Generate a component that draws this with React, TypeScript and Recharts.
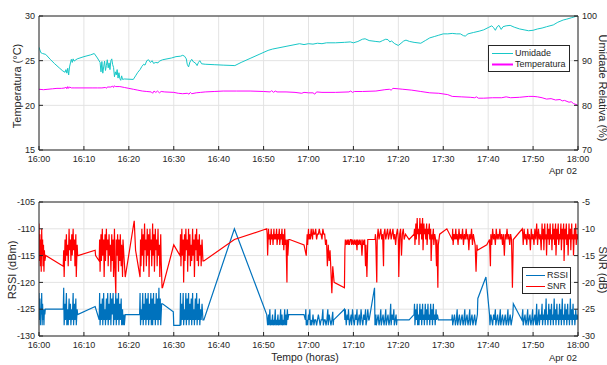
import { LineChart, Line, XAxis, YAxis, CartesianGrid } from 'recharts';

// minutes after 16:00
const timeTicks = [0, 10, 20, 30, 40, 50, 60, 70, 80, 90, 100, 110, 120];
const timeLabels = ['16:00', '16:10', '16:20', '16:30', '16:40', '16:50', '17:00', '17:10', '17:20', '17:30', '17:40', '17:50', '18:00'];

const tempTicks = [15, 20, 25, 30];
const humTicks = [70, 80, 90, 100];
const rssiTicks = [-130, -125, -120, -115, -110, -105];
const snrTicks = [-30, -25, -20, -15, -10, -5];

// relative humidity (%) [minute, value]
const umidade: [number, number][] = [
  [0, 93.0], [0.4, 91.8], [0.8, 91.6], [1.5, 91.4], [2.5, 90.3], [3.5, 89.3], [4.5, 88.4], [5.3, 87.7], [5.8, 87.4],
  [6.0, 88.0], [6.2, 87.2], [6.4, 88.3], [6.6, 86.8], [6.8, 88.6], [7.0, 89.5], [7.2, 90.3], [7.4, 89.6], [7.6, 90.4],
  [7.8, 89.9], [8.5, 90.4], [10, 90.9], [11.5, 91.3], [12.3, 91.6], [13.0, 90.6], [13.6, 89.6], [13.8, 87.5], [14.0, 89.8],
  [14.2, 87.2], [14.4, 88.6], [14.6, 89.9], [14.8, 87.8], [15.0, 88.9], [15.2, 90.2], [15.4, 88.4], [15.6, 89.5], [15.8, 88.0],
  [16.0, 90.0], [16.2, 90.4], [16.4, 89.1], [16.6, 88.5], [16.8, 86.4], [17.0, 87.5], [17.2, 86.8], [17.4, 88.0], [17.6, 86.1],
  [17.8, 87.3], [18.0, 86.0], [18.2, 85.6], [18.4, 86.6], [18.6, 85.8], [19, 85.9], [21, 85.8], [21.5, 86.6], [22, 87.4],
  [22.5, 88.0], [22.9, 88.7], [23.3, 89.2], [23.6, 89.0], [24, 90.0], [24.4, 90.2], [24.8, 89.6], [25.2, 90.0], [25.5, 89.4],
  [26, 89.6], [26.5, 89.5], [26.8, 89.9], [27.5, 90.2], [28.5, 90.4], [29.5, 90.6], [30.5, 90.9], [31.5, 91.0], [32, 91.2],
  [32.4, 91.0], [32.8, 90.4], [33.0, 89.2], [33.3, 88.6], [33.6, 89.7], [34, 90.3], [34.4, 89.7], [34.8, 89.5], [35.2, 88.9],
  [35.5, 89.6], [35.8, 90.0], [36.2, 89.3], [37, 89.2], [39, 89.1], [41, 89.0], [43.6, 88.9], [45, 89.6], [47, 90.5],
  [49, 91.4], [51, 92.3], [52, 92.6], [53, 92.8], [55, 93.2], [57, 93.6], [58, 93.8], [59, 93.6], [60, 93.8], [61, 93.7],
  [62, 93.9], [63, 93.8], [64, 94.0], [66, 94.0], [68, 94.1], [69.3, 94.2], [70, 94.0], [71, 94.3], [72, 94.8], [72.6, 94.9],
  [73.5, 94.5], [75, 94.3], [75.9, 94.2], [76.5, 94.5], [77.2, 94.8], [77.7, 94.7], [78.1, 94.2], [78.5, 94.4], [79.2, 93.8],
  [80, 93.4], [80.6, 93.9], [81.2, 94.4], [81.7, 94.6], [82.5, 94.3], [83.5, 94.1], [85, 93.9], [86, 94.5], [87, 95.1],
  [88, 95.4], [89, 95.7], [90, 96.0], [91, 96.0], [92, 96.1], [93, 96.0], [93.8, 96.0], [94.5, 95.6], [94.9, 95.5],
  [95.5, 96.0], [96.7, 96.3], [98, 96.6], [99, 96.9], [100, 97.4], [100.8, 97.8], [101.2, 97.4], [101.6, 96.8], [102.0, 97.6],
  [102.4, 97.9], [102.9, 97.0], [103.3, 97.6], [104, 97.8], [104.9, 97.9], [105.8, 97.5], [107, 97.1], [108, 96.9],
  [109, 96.7], [110, 96.8], [111, 97.1], [112, 97.3], [113, 97.6], [114.5, 98.0], [115.5, 98.6], [116.7, 99.1],
  [117.5, 99.3], [118.5, 99.6], [119.8, 100],
];

// temperature (°C) [minute, value]
const temperatura: [number, number][] = [
  [0, 21.8], [1, 21.75], [2, 21.8], [3, 21.85], [4, 21.9], [5, 21.9], [5.8, 21.95], [6.0, 22.05], [6.2, 21.85], [6.4, 22.1],
  [6.6, 21.9], [6.8, 22.05], [7.2, 21.95], [8, 21.95], [10, 21.95], [12, 21.95], [13, 21.95], [14, 21.95], [14.8, 22.0],
  [15, 21.9], [15.2, 22.05], [16, 22.05], [16.4, 22.15], [16.6, 22.0], [16.8, 22.2], [17, 22.1], [18, 22.1], [19, 22.0],
  [20, 21.9], [21, 21.8], [22, 21.7], [23, 21.6], [24, 21.55], [25, 21.5], [25.3, 21.35], [25.6, 21.6], [26, 21.45],
  [26.4, 21.6], [26.8, 21.4], [27.2, 21.55], [28, 21.5], [30, 21.45], [31, 21.35], [32, 21.3], [33, 21.35], [33.4, 21.25],
  [33.7, 21.45], [34, 21.3], [35, 21.4], [36, 21.45], [37, 21.5], [39, 21.55], [41, 21.6], [44, 21.6], [47, 21.6],
  [50, 21.55], [51.5, 21.5], [51.8, 21.65], [52.2, 21.45], [52.6, 21.6], [53, 21.5], [55, 21.5], [57, 21.45], [58.5, 21.35],
  [59, 21.45], [60, 21.4], [61, 21.4], [61.4, 21.25], [61.8, 21.5], [63, 21.45], [66, 21.45], [69, 21.5], [69.4, 21.6],
  [69.8, 21.45], [70.2, 21.55], [72, 21.55], [75, 21.6], [77, 21.75], [78, 21.8], [78.4, 21.7], [78.8, 21.9], [80, 21.85],
  [81, 21.8], [83, 21.7], [85, 21.55], [87, 21.4], [89, 21.35], [91, 21.2], [92, 21.0], [94, 20.95], [96, 20.9], [97, 20.85],
  [97.4, 20.95], [97.8, 20.8], [99, 20.8], [101, 20.85], [103, 20.85], [104, 20.95], [105, 20.85], [107, 20.9], [109, 21.0],
  [110, 21.0], [111, 20.95], [112, 20.85], [113, 20.7], [114, 20.75], [115, 20.6], [116, 20.65], [116.5, 20.5], [117, 20.55],
  [118, 20.35], [118.5, 20.4], [119, 20.2], [119.8, 20.05],
];

// RSSI (dBm) [minute, value]
const rssi: [number, number][] = [
  [0.0, -122], [0.1, -127], [0.2, -123], [0.3, -128], [0.4, -125], [0.5, -126], [0.6, -122], [0.7, -128], [0.8, -124],
  [0.9, -127], [1.0, -125], [1.1, -128], [1.2, -125], [1.3, -126], [1.4, -125], [5.4, -125],
  [5.5, -121], [5.6, -128], [5.8, -124], [5.9, -127], [6.1, -122], [6.2, -128], [6.4, -125], [6.5, -128], [6.7, -123],
  [6.8, -127], [7.0, -124], [7.1, -128], [7.3, -125], [7.4, -127], [7.6, -122], [7.7, -128], [7.9, -124], [8.0, -127],
  [8.2, -123], [8.3, -128], [8.5, -125], [8.6, -126], [12.5, -124.5], [13.4, -127],
  [13.5, -122], [13.6, -128], [13.8, -124], [13.9, -127], [14.1, -123], [14.2, -128], [14.4, -122], [14.5, -127],
  [14.7, -125], [14.8, -128], [15.0, -123], [15.1, -127], [15.3, -122], [15.4, -128], [15.6, -124], [15.7, -127],
  [15.9, -122], [16.0, -128], [16.2, -123], [16.3, -126], [16.5, -122], [16.6, -128], [16.8, -124], [16.9, -127],
  [17.1, -122], [17.2, -128], [17.4, -123], [17.5, -127], [17.7, -122], [17.8, -128], [18.0, -124], [18.1, -127],
  [18.3, -123], [18.4, -128], [18.6, -125], [18.7, -128], [18.9, -126], [19.0, -128], [19.2, -126], [22.4, -126],
  [22.5, -122], [22.6, -128], [22.8, -125], [22.9, -127], [23.1, -122], [23.2, -128], [23.4, -124], [23.5, -127],
  [23.7, -122], [23.8, -128], [24.0, -123], [24.1, -127], [24.3, -122], [24.4, -128], [24.6, -124], [24.7, -127],
  [24.9, -122], [25.0, -128], [25.2, -123], [25.3, -128], [25.5, -122], [25.6, -127], [25.8, -124], [25.9, -128],
  [26.1, -122], [26.2, -127], [26.4, -123], [26.5, -128], [26.7, -121], [26.8, -127], [27.0, -123], [27.1, -128],
  [27.3, -124], [27.5, -124], [29.9, -125.5], [30.0, -128], [31.4, -128],
  [31.5, -122], [31.6, -128], [31.8, -124], [31.9, -127], [32.1, -122], [32.2, -128], [32.4, -125], [32.5, -127],
  [32.7, -122], [32.8, -128], [33.0, -123], [33.1, -127], [33.3, -122], [33.4, -128], [33.6, -124], [33.7, -127],
  [33.9, -123], [34.0, -128], [34.2, -122], [34.3, -127], [34.5, -125], [34.6, -128], [34.8, -123], [34.9, -127],
  [35.1, -122], [35.2, -128], [35.4, -124], [35.5, -127], [35.7, -123], [35.8, -128], [36.0, -125], [36.1, -127],
  [36.3, -124], [36.5, -127], [36.7, -127], [43.5, -110], [50.7, -126],
  [50.8, -127], [50.9, -128], [51.1, -126], [51.2, -128], [51.4, -125], [51.5, -128], [51.7, -127], [51.8, -128],
  [52.0, -126], [52.1, -128], [52.3, -127], [52.4, -128], [52.6, -125], [52.7, -128], [52.9, -127], [53.0, -128],
  [53.2, -126], [53.3, -128], [53.5, -127], [53.6, -128], [53.8, -125], [53.9, -128], [54.1, -126], [54.2, -128],
  [54.4, -127], [54.5, -128], [54.7, -125], [54.8, -128], [55.0, -126], [55.1, -128], [55.3, -125], [55.4, -127],
  [55.6, -126], [55.8, -126], [59.0, -126], [59.3, -127],
  [59.4, -125], [59.5, -128], [59.7, -127], [59.8, -128], [60.0, -126], [60.1, -127], [60.3, -125], [60.4, -128],
  [60.6, -127], [60.7, -128], [60.9, -127], [61.0, -126], [61.2, -128], [61.4, -127], [61.6, -127], [61.8, -128],
  [62.0, -127], [62.2, -126], [62.4, -127], [62.6, -128], [62.8, -127], [63.0, -127], [63.2, -125], [63.3, -128],
  [63.5, -127], [63.7, -127], [63.9, -128], [64.1, -127], [64.3, -125], [64.4, -128], [64.6, -126], [64.8, -127],
  [65.0, -128], [65.2, -127], [65.4, -125.5], [65.5, -128], [65.6, -127], [68.0, -125],
  [68.1, -127], [68.2, -125], [68.4, -128], [68.6, -126], [68.8, -127], [68.9, -125], [69.1, -128], [69.3, -127],
  [69.5, -126], [69.6, -128], [69.8, -125], [70.0, -127], [70.2, -128], [70.4, -126], [70.6, -127], [70.8, -125],
  [70.9, -128], [71.1, -127], [71.3, -126], [71.5, -128], [71.7, -125], [71.9, -127], [72.1, -128], [72.3, -126],
  [72.5, -127], [72.7, -125], [72.8, -128], [73.0, -127], [73.2, -125], [73.4, -127], [73.5, -127], [74.7, -121], [74.8, -128],
  [75.0, -126], [75.1, -128], [75.3, -127], [75.5, -126], [75.7, -128], [75.9, -127], [76.1, -125], [76.2, -128],
  [76.4, -127], [76.6, -126], [76.8, -128], [77.0, -127], [77.2, -125], [77.3, -128], [77.5, -127], [77.7, -126],
  [77.9, -128], [78.1, -127], [78.3, -124], [78.4, -128], [78.6, -126], [78.8, -127], [79.0, -125], [79.1, -128],
  [79.3, -127], [79.5, -126], [79.6, -128], [79.7, -127], [82.4, -127], [83.5, -126],
  [83.6, -124], [83.7, -128], [83.9, -125], [84.0, -127], [84.2, -124], [84.3, -128], [84.5, -126], [84.6, -128],
  [84.8, -124], [84.9, -127], [85.1, -125], [85.2, -128], [85.4, -124], [85.5, -127], [85.7, -126], [85.8, -128],
  [86.0, -124], [86.1, -127], [86.3, -125], [86.4, -128], [86.6, -124], [86.7, -127], [86.9, -126], [87.0, -128],
  [87.2, -124], [87.3, -127], [87.5, -125], [87.6, -128], [87.8, -124], [87.9, -127], [88.1, -126], [88.2, -128],
  [88.4, -125], [88.5, -127], [88.7, -126], [88.9, -127], [89.0, -127], [91.9, -127],
  [92.0, -126], [92.1, -128], [92.3, -127], [92.5, -126], [92.7, -128], [92.9, -127], [93.1, -125], [93.2, -128],
  [93.4, -127], [93.6, -126], [93.8, -128], [94.0, -127], [94.2, -126], [94.4, -128], [94.6, -127], [94.8, -125],
  [94.9, -128], [95.1, -127], [95.3, -126], [95.5, -128], [95.7, -127], [95.9, -125], [96.0, -128], [96.2, -127],
  [96.4, -126], [96.6, -128], [96.8, -127], [97.0, -126], [97.2, -128], [97.4, -127], [97.6, -126],
  [97.7, -123], [99.5, -119], [100.3, -126],
  [100.4, -128], [100.6, -126], [100.8, -127], [101.0, -128], [101.2, -126], [101.4, -127], [101.6, -125], [101.7, -128],
  [101.9, -127], [102.1, -126], [102.3, -128], [102.5, -127], [102.7, -125], [102.8, -128], [103.0, -127], [103.2, -126],
  [103.4, -128], [103.6, -127], [103.8, -126], [104.0, -128], [104.2, -127], [104.4, -125], [104.5, -128], [104.7, -127],
  [104.9, -126], [105.1, -128], [105.3, -127], [105.5, -126], [105.6, -124], [107.5, -127],
  [107.7, -125], [107.8, -128], [108.0, -127], [108.2, -126], [108.4, -128], [108.6, -127], [108.8, -125], [108.9, -128],
  [109.1, -127], [109.3, -126], [109.5, -128], [109.7, -127], [109.9, -125], [110.0, -128], [110.2, -127], [110.4, -126],
  [110.6, -128], [110.8, -124], [110.9, -128], [111.1, -127], [111.3, -125], [111.4, -128], [111.6, -126], [111.8, -127],
  [112.0, -124], [112.1, -128], [112.3, -126], [112.4, -127], [112.6, -125], [112.7, -128], [112.9, -123], [113.0, -127],
  [113.2, -126], [113.3, -128], [113.5, -124], [113.6, -127], [113.8, -125], [113.9, -128], [114.1, -124], [114.2, -127],
  [114.4, -126], [114.5, -128], [114.7, -123], [114.8, -127], [115.0, -125], [115.1, -128], [115.3, -124], [115.4, -127],
  [115.6, -126], [115.7, -128], [115.9, -124], [116.0, -127], [116.2, -125], [116.3, -128], [116.5, -123], [116.6, -127],
  [116.8, -126], [116.9, -128], [117.1, -124], [117.2, -127], [117.4, -125], [117.5, -128], [117.7, -124], [117.8, -127],
  [118.0, -126], [118.1, -128], [118.3, -123], [118.4, -127], [118.6, -125], [118.7, -128], [118.9, -124], [119.0, -127],
  [119.2, -126], [119.3, -128], [119.5, -125], [119.6, -127], [119.8, -126], [120.0, -127],
];

// SNR (dB) [minute, value]
const snr: [number, number][] = [
  [0.0, -9], [0.1, -16], [0.2, -11], [0.3, -17], [0.4, -12], [0.5, -18], [0.6, -10], [0.7, -15], [0.8, -12], [0.9, -17],
  [1.0, -13], [1.1, -18], [1.2, -14], [1.3, -16], [1.5, -15], [5.4, -17],
  [5.5, -14], [5.6, -19], [5.8, -12], [5.9, -16], [6.1, -11], [6.2, -15], [6.4, -13], [6.5, -17], [6.7, -10], [6.8, -14],
  [7.0, -12], [7.1, -16], [7.3, -11], [7.4, -15], [7.6, -10], [7.7, -14], [7.9, -12], [8.0, -17], [8.2, -11], [8.3, -19],
  [8.5, -13], [8.6, -15], [8.7, -15], [12.5, -14], [12.6, -15], [13.4, -16],
  [13.5, -12], [13.6, -18], [13.8, -11], [13.9, -16], [14.1, -10], [14.2, -15], [14.4, -12], [14.5, -19], [14.7, -11],
  [14.8, -16], [15.0, -10], [15.1, -14], [15.3, -12], [15.4, -17], [15.6, -11], [15.7, -15], [15.9, -13], [16.0, -18],
  [16.2, -11], [16.3, -16], [16.5, -12], [16.6, -19], [16.8, -10], [16.9, -17], [17.1, -22], [17.2, -12], [17.4, -15],
  [17.5, -11], [17.7, -18], [17.8, -12], [18.0, -16], [18.1, -11], [18.3, -17], [18.4, -13], [18.6, -19], [18.7, -12],
  [18.9, -15], [19.2, -19], [21.2, -8.5], [21.5, -14], [22.5, -19],
  [22.6, -12], [22.7, -17], [22.9, -10], [23.0, -15], [23.2, -11], [23.3, -18], [23.5, -9], [23.6, -14], [23.8, -12],
  [23.9, -17], [24.1, -10], [24.2, -15], [24.4, -11], [24.5, -19], [24.7, -10], [24.8, -14], [25.0, -12], [25.1, -17],
  [25.3, -9], [25.4, -15], [25.6, -11], [25.7, -18], [25.9, -10], [26.0, -14], [26.2, -12], [26.3, -17], [26.5, -10],
  [26.6, -15], [26.8, -13], [26.9, -19], [27.1, -11], [27.2, -16], [27.4, -21], [27.5, -21], [30.0, -13], [31.4, -15],
  [31.5, -11], [31.6, -17], [31.8, -10], [31.9, -15], [32.1, -12], [32.2, -20], [32.4, -11], [32.5, -16], [32.7, -10],
  [32.8, -14], [33.0, -12], [33.1, -18], [33.3, -10], [33.4, -15], [33.6, -11], [33.7, -17], [33.9, -13], [34.0, -16],
  [34.2, -10], [34.3, -15], [34.5, -12], [34.6, -19], [34.8, -11], [34.9, -14], [35.1, -10], [35.2, -16], [35.4, -12],
  [35.5, -17], [35.7, -11], [35.8, -15], [36.0, -13], [36.1, -17], [36.3, -12], [36.5, -16], [36.7, -16], [43.5, -12],
  [50.7, -10],
  [50.8, -11], [50.9, -15], [51.1, -10], [51.2, -12], [51.4, -11], [51.5, -13], [51.7, -10], [51.8, -12], [52.0, -11],
  [52.1, -13], [52.3, -10], [52.4, -12], [52.6, -11], [52.7, -12], [52.9, -10], [53.0, -13], [53.2, -11], [53.3, -12],
  [53.5, -10], [53.6, -13], [53.8, -11], [53.9, -12], [54.1, -10], [54.2, -13], [54.4, -11], [54.5, -14], [54.7, -10],
  [54.8, -13], [55.0, -12], [55.1, -16], [55.2, -20], [55.3, -12], [55.4, -15], [55.6, -12], [55.8, -12], [59.0, -13],
  [59.5, -15],
  [59.7, -11], [59.8, -13], [60.0, -10], [60.1, -12], [60.3, -11], [60.4, -12], [60.6, -10], [60.7, -11], [60.9, -12],
  [61.0, -10], [61.2, -11], [61.4, -11], [61.6, -10], [61.8, -12], [62.0, -11], [62.2, -11], [62.4, -10], [62.6, -11],
  [62.8, -11], [63.0, -12], [63.2, -10], [63.4, -11], [63.6, -11], [63.8, -13], [64.0, -12], [64.2, -17], [64.4, -13],
  [64.6, -16], [64.8, -14], [65.0, -18], [65.2, -22], [65.4, -17], [65.7, -20], [68.0, -21],
  [68.1, -14], [68.2, -12], [68.4, -13], [68.6, -12], [68.8, -13], [68.9, -12], [69.1, -13], [69.3, -12], [69.5, -12],
  [69.6, -13], [69.8, -12], [70.0, -13], [70.2, -12], [70.4, -13], [70.6, -12], [70.8, -14], [70.9, -12], [71.1, -13],
  [71.3, -12], [71.5, -13], [71.7, -12], [71.9, -15], [72.1, -12], [72.3, -13], [72.5, -12], [72.7, -17], [72.8, -13],
  [73.0, -19], [73.2, -12], [73.4, -12], [74.8, -12],
  [74.9, -11], [75.0, -13], [75.2, -20], [75.3, -12], [75.5, -10], [75.7, -12], [75.9, -11], [76.1, -10], [76.3, -12],
  [76.5, -11], [76.7, -17], [76.8, -11], [77.0, -10], [77.2, -12], [77.4, -11], [77.6, -10], [77.8, -12], [78.0, -11],
  [78.2, -10], [78.4, -12], [78.6, -11], [78.8, -10], [79.0, -12], [79.2, -11], [79.4, -13], [79.6, -11], [79.8, -10],
  [80.0, -12], [80.1, -19], [80.3, -11], [80.5, -10], [80.7, -15], [80.9, -11], [81.1, -10], [81.3, -12], [81.6, -11],
  [82.4, -12], [83.5, -11],
  [83.6, -10], [83.7, -13], [83.9, -9], [84.0, -12], [84.2, -8], [84.3, -11], [84.5, -10], [84.6, -13], [84.8, -8],
  [84.9, -11], [85.1, -9], [85.2, -12], [85.4, -8], [85.5, -14], [85.7, -9], [85.8, -11], [86.0, -10], [86.1, -12],
  [86.3, -9], [86.4, -13], [86.6, -10], [86.7, -11], [86.9, -9], [87.0, -12], [87.2, -10], [87.3, -16], [87.5, -11],
  [87.6, -12], [87.8, -10], [87.9, -13], [88.1, -11], [88.3, -12], [88.5, -17], [88.6, -12], [88.8, -21], [88.9, -13],
  [89.2, -11], [90.8, -10], [92.0, -12],
  [92.1, -10], [92.2, -13], [92.4, -11], [92.6, -12], [92.8, -10], [92.9, -12], [93.1, -11], [93.3, -13], [93.5, -10],
  [93.7, -12], [93.9, -11], [94.1, -12], [94.3, -10], [94.5, -13], [94.7, -11], [94.9, -12], [95.1, -10], [95.3, -12],
  [95.5, -11], [95.7, -14], [95.9, -11], [96.1, -12], [96.3, -10], [96.5, -13], [96.7, -11], [96.9, -12], [97.1, -13],
  [97.3, -18], [97.5, -13], [97.6, -14], [99.7, -13],
  [100.3, -12], [100.5, -17], [100.6, -11], [100.8, -13], [101.0, -10], [101.2, -12], [101.4, -11], [101.6, -13],
  [101.8, -10], [102.0, -12], [102.2, -11], [102.4, -12], [102.6, -10], [102.8, -12], [103.0, -11], [103.2, -13],
  [103.4, -11], [103.6, -15], [103.8, -11], [104.0, -12], [104.2, -10], [104.4, -12], [104.6, -11], [104.8, -13],
  [105.0, -11], [105.2, -12], [105.4, -21], [105.6, -12], [107.6, -10],
  [107.7, -11], [107.8, -13], [108.0, -10], [108.2, -12], [108.4, -11], [108.6, -13], [108.8, -10], [109.0, -12],
  [109.2, -11], [109.4, -14], [109.6, -10], [109.8, -12], [110.0, -11], [110.2, -13], [110.4, -10], [110.6, -12],
  [110.8, -9], [111.0, -13], [111.2, -10], [111.4, -12], [111.6, -11], [111.8, -14], [112.0, -9], [112.1, -12],
  [112.3, -10], [112.4, -14], [112.6, -9], [112.7, -12], [112.9, -11], [113.0, -15], [113.2, -9], [113.3, -12],
  [113.5, -10], [113.6, -13], [113.8, -9], [113.9, -12], [114.1, -11], [114.2, -14], [114.4, -9], [114.5, -12],
  [114.7, -10], [114.8, -13], [115.0, -9], [115.1, -15], [115.3, -10], [115.4, -12], [115.6, -9], [115.7, -13],
  [115.9, -11], [116.0, -12], [116.2, -9], [116.3, -14], [116.5, -10], [116.6, -12], [116.8, -9], [116.9, -16],
  [117.1, -10], [117.2, -12], [117.4, -9], [117.5, -13], [117.7, -11], [117.8, -15], [118.0, -9], [118.1, -12],
  [118.3, -10], [118.4, -14], [118.6, -9], [118.7, -12], [118.9, -11], [119.0, -15], [119.2, -10], [119.3, -12],
  [119.5, -9], [119.6, -13], [119.8, -11], [120.0, -12],
];

const toRows = (pts: [number, number][]) => pts.map(([t, v]) => ({ t, v }));

const FONT = '"Liberation Sans", Arial, Helvetica, sans-serif';
const AXIS = '#262626';
const GRID = '#e3e3e3';
const CYAN = '#17c7c7';
const MAGENTA = '#ff00ff';
const BLUE = '#0072bd';
const RED = '#ff0000';

const tickStyle = { fontSize: 9, fill: AXIS, fontFamily: FONT };
const fmtTime = (v: number) => timeLabels[timeTicks.indexOf(v)] ?? '';

const rotated = (text: string, cx: number, cy: number, deg: number) => (
  <div
    style={{
      position: 'absolute',
      left: cx,
      top: cy,
      transform: `translate(-50%, -50%) rotate(${deg}deg)`,
      whiteSpace: 'nowrap',
      fontSize: 11,
      lineHeight: '11px',
      fontFamily: FONT,
      color: AXIS,
    }}
  >
    {text}
  </div>
);

const plain = (text: string, x: number, y: number, anchor: 'left' | 'center' | 'right', size = 9.5) => (
  <div
    style={{
      position: 'absolute',
      left: x,
      top: y,
      transform: anchor === 'center' ? 'translate(-50%, -50%)' : anchor === 'right' ? 'translate(-100%, -50%)' : 'translate(0, -50%)',
      whiteSpace: 'nowrap',
      fontSize: size,
      fontFamily: FONT,
      color: AXIS,
    }}
  >
    {text}
  </div>
);

function LegendBox({ x, y, w, lineLen, items }: { x: number; y: number; w: number; lineLen: number; items: { name: string; color: string; width: number }[] }) {
  return (
    <div
      style={{
        position: 'absolute',
        left: x,
        top: y,
        width: w,
        height: items.length * 11 + 5,
        boxSizing: 'border-box',
        border: `1px solid ${AXIS}`,
        background: '#fff',
        fontFamily: FONT,
        fontSize: 9,
        color: AXIS,
      }}
    >
      {items.map((it, i) => (
        <div key={it.name} style={{ position: 'absolute', left: 3, top: 2 + i * 11, height: 11, display: 'flex', alignItems: 'center' }}>
          <svg width={lineLen} height={11} style={{ display: 'block' }}>
            <line x1={0} x2={lineLen} y1={5.5} y2={5.5} stroke={it.color} strokeWidth={it.width} />
          </svg>
          <span style={{ marginLeft: 2, lineHeight: '11px' }}>{it.name}</span>
        </div>
      ))}
    </div>
  );
}

function Panel({
  height,
  bottomHeight,
  leftId,
  leftDomain,
  leftTicks,
  rightId,
  rightDomain,
  rightTicks,
  children,
}: {
  height: number;
  bottomHeight: number;
  leftId: string;
  leftDomain: number[];
  leftTicks: number[];
  rightId: string;
  rightDomain: number[];
  rightTicks: number[];
  children: React.ReactNode;
}) {
  return (
    <LineChart width={607} height={height} margin={{ top: 0, right: 0, bottom: 0, left: 0 }}>
      <CartesianGrid stroke={GRID} xAxisId="b" yAxisId={leftId} />
      <XAxis
        xAxisId="b"
        dataKey="t"
        type="number"
        domain={[0, 120]}
        ticks={timeTicks}
        tickFormatter={fmtTime}
        height={bottomHeight}
        stroke={AXIS}
        tick={tickStyle}
        tickSize={-4}
        tickMargin={10}
        allowDataOverflow
      />
      <XAxis
        xAxisId="t"
        orientation="top"
        dataKey="t"
        type="number"
        domain={[0, 120]}
        ticks={timeTicks}
        height={16}
        stroke={AXIS}
        tick={false}
        tickSize={-4}
        allowDataOverflow
      />
      <YAxis
        yAxisId={leftId}
        orientation="left"
        domain={leftDomain}
        ticks={leftTicks}
        width={39}
        stroke={AXIS}
        tick={tickStyle}
        tickSize={-4}
        tickMargin={8}
        allowDataOverflow
      />
      <YAxis
        yAxisId={rightId}
        orientation="right"
        domain={rightDomain}
        ticks={rightTicks}
        width={29}
        stroke={AXIS}
        tick={tickStyle}
        tickSize={-4}
        tickMargin={8}
        allowDataOverflow
      />
      {children}
    </LineChart>
  );
}

export default function App() {
  return (
    <div style={{ position: 'absolute', left: 0, top: 0, width: 607, height: 365, background: '#fff', overflow: 'hidden' }}>
      <div style={{ position: 'absolute', left: 0, top: 0 }}>
        <Panel
          height={175}
          bottomHeight={25}
          leftId="temp"
          leftDomain={[15, 30]}
          leftTicks={tempTicks}
          rightId="hum"
          rightDomain={[70, 100]}
          rightTicks={humTicks}
        >
          <Line xAxisId="b" yAxisId="hum" data={toRows(umidade)} dataKey="v" type="linear" stroke={CYAN} strokeWidth={1} dot={false} isAnimationActive={false} />
          <Line xAxisId="b" yAxisId="temp" data={toRows(temperatura)} dataKey="v" type="linear" stroke={MAGENTA} strokeWidth={1} dot={false} isAnimationActive={false} />
        </Panel>
      </div>
      <div style={{ position: 'absolute', left: 0, top: 186 }}>
        <Panel
          height={179}
          bottomHeight={29}
          leftId="rssi"
          leftDomain={[-130, -105]}
          leftTicks={rssiTicks}
          rightId="snr"
          rightDomain={[-30, -5]}
          rightTicks={snrTicks}
        >
          <Line xAxisId="b" yAxisId="rssi" data={toRows(rssi)} dataKey="v" type="linear" stroke={BLUE} strokeWidth={1.2} dot={false} isAnimationActive={false} />
          <Line xAxisId="b" yAxisId="snr" data={toRows(snr)} dataKey="v" type="linear" stroke={RED} strokeWidth={1.2} dot={false} isAnimationActive={false} />
        </Panel>
      </div>

      {rotated('Temperatura (°C)', 17, 86, -90)}
      {rotated('Umidade Relativa (%)', 601.5, 88, 90)}
      {rotated('RSSI (dBm)', 12, 270, -90)}
      {rotated('SNR (dB)', 601.5, 270, 90)}
      {plain('Apr 02', 577, 170, 'right')}
      {plain('Apr 02', 577, 357, 'right')}
      {plain('Tempo (horas)', 305, 357, 'center', 10.5)}

      <LegendBox
        x={488}
        y={45}
        w={82}
        lineLen={21}
        items={[
          { name: 'Umidade', color: CYAN, width: 1 },
          { name: 'Temperatura', color: MAGENTA, width: 2 },
        ]}
      />
      <LegendBox
        x={522}
        y={267}
        w={49}
        lineLen={19}
        items={[
          { name: 'RSSI', color: BLUE, width: 1 },
          { name: 'SNR', color: RED, width: 1 },
        ]}
      />
    </div>
  );
}
